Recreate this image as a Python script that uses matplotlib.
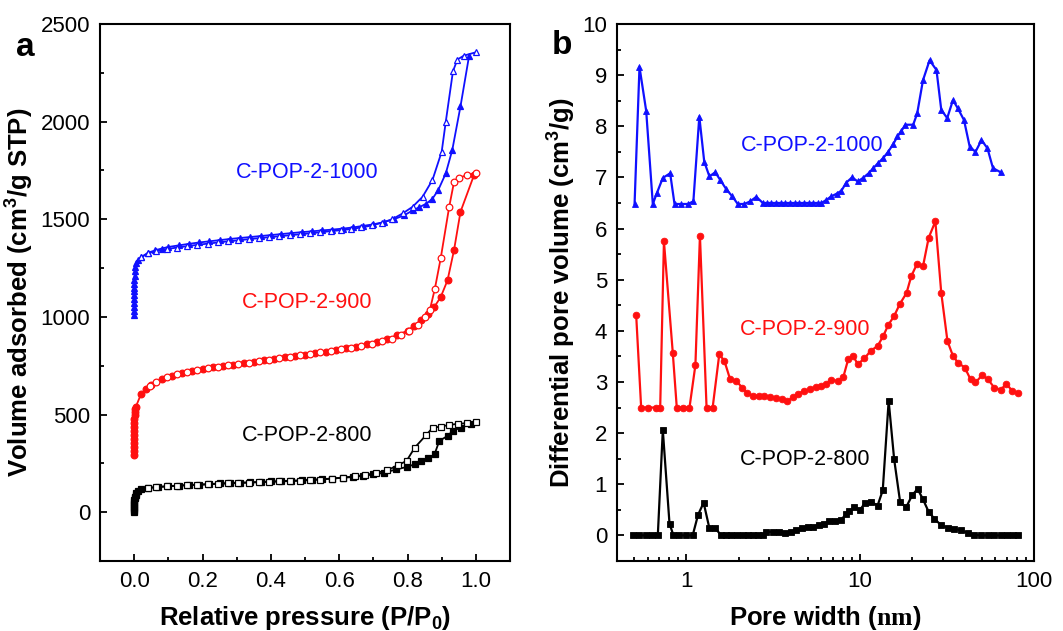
import numpy as np
import matplotlib
matplotlib.use("Agg")
import matplotlib.pyplot as plt
from matplotlib.ticker import MultipleLocator, FixedLocator, FuncFormatter, LogLocator, NullFormatter

plt.rcParams['font.family'] = ['Liberation Sans', 'DejaVu Sans']
plt.rcParams['mathtext.fontset'] = 'custom'
plt.rcParams['mathtext.rm'] = 'Liberation Sans'
plt.rcParams['mathtext.bf'] = 'Liberation Sans:bold'
plt.rcParams['mathtext.sf'] = 'Liberation Serif:bold'

# ---------- (a) N2 isotherms ----------
# C-POP-2-1000
p1000_ads = [1e-6, 2e-6, 5e-6, 1e-5, 2e-5, 5e-5, 1e-4, 2e-4, 4e-4, 7e-4, 1e-3, 2e-3, 3e-3, 5e-3,
             0.01, 0.02, 0.04, 0.06, 0.08, 0.10, 0.13, 0.16, 0.19, 0.22, 0.25, 0.28, 0.31, 0.34,
             0.37, 0.40, 0.43, 0.46, 0.49, 0.52, 0.55, 0.58, 0.61, 0.64, 0.67, 0.70, 0.73, 0.76,
             0.79, 0.815, 0.835, 0.855, 0.873, 0.89, 0.912, 0.931, 0.955, 0.98]
v1000_ads = [1012, 1030, 1050, 1070, 1090, 1110, 1130, 1150, 1170, 1190, 1210, 1235, 1255, 1275,
             1290, 1305, 1328, 1340, 1350, 1358, 1366, 1374, 1381, 1387, 1393, 1399, 1404, 1409,
             1414, 1419, 1424, 1429, 1434, 1438, 1443, 1447, 1452, 1458, 1466, 1474, 1485, 1500,
             1520, 1545, 1562, 1580, 1605, 1650, 1735, 1855, 2078, 2335]
p1000_des = [1.0, 0.965, 0.946, 0.933, 0.912, 0.90, 0.873, 0.844, 0.815, 0.786, 0.755, 0.725,
             0.695, 0.665, 0.635, 0.605, 0.575, 0.545, 0.515, 0.485, 0.455, 0.425, 0.395, 0.365,
             0.335, 0.305, 0.275, 0.245, 0.215, 0.185, 0.155, 0.125, 0.095, 0.065, 0.04, 0.02]
v1000_des = [2355, 2338, 2318, 2258, 2000, 1846, 1701, 1615, 1564, 1530, 1500, 1482,
             1468, 1458, 1450, 1444, 1439, 1433, 1428, 1423, 1418, 1413, 1408, 1403,
             1398, 1392, 1387, 1381, 1375, 1369, 1362, 1355, 1347, 1337, 1325, 1305]

# C-POP-2-900
p900_ads = [1e-6, 2e-6, 5e-6, 1e-5, 2e-5, 5e-5, 1e-4, 2e-4, 4e-4, 7e-4, 1e-3, 2e-3, 3e-3, 5e-3,
            0.02, 0.035, 0.05, 0.08, 0.11, 0.14, 0.17, 0.20, 0.23, 0.26, 0.29, 0.32, 0.35, 0.38,
            0.41, 0.44, 0.47, 0.50, 0.53, 0.56, 0.59, 0.62, 0.65, 0.68, 0.71, 0.74, 0.77, 0.80,
            0.82, 0.84, 0.86, 0.878, 0.897, 0.917, 0.936, 0.955, 0.995]
v900_ads = [295, 315, 335, 355, 375, 395, 415, 435, 455, 475, 495, 515, 530, 540,
            605, 630, 652, 680, 698, 712, 724, 734, 741, 748, 755, 762, 769, 777,
            785, 792, 799, 806, 814, 822, 830, 839, 848, 859, 871, 886, 906, 930,
            955, 985, 1016, 1050, 1101, 1187, 1341, 1538, 1728]
p900_des = [1.0, 0.975, 0.951, 0.936, 0.922, 0.897, 0.88, 0.865, 0.85, 0.83, 0.805, 0.78,
            0.755, 0.725, 0.695, 0.665, 0.635, 0.605, 0.575, 0.545, 0.515, 0.485, 0.455, 0.425,
            0.395, 0.365, 0.335, 0.305, 0.275, 0.245, 0.215, 0.185, 0.155, 0.125, 0.095, 0.065,
            0.045]
v900_des = [1735, 1727, 1712, 1690, 1564, 1299, 1144, 1033, 998, 958, 930, 905,
            888, 874, 862, 852, 843, 834, 826, 818, 810, 803, 796, 789,
            781, 773, 766, 759, 752, 745, 738, 730, 718, 705, 690, 668,
            648]

# C-POP-2-800
p800_ads = [1e-6, 2e-6, 5e-6, 1e-5, 5e-5, 1e-4, 5e-4, 1e-3, 2e-3, 4e-3, 6e-3,
            0.01, 0.02, 0.04, 0.07, 0.10, 0.13, 0.16, 0.19, 0.22, 0.25, 0.28, 0.31, 0.34,
            0.37, 0.40, 0.43, 0.46, 0.49, 0.52, 0.55, 0.58, 0.61, 0.64, 0.67, 0.70, 0.73,
            0.767, 0.797, 0.821, 0.84, 0.86, 0.879, 0.893, 0.918, 0.932, 0.956, 0.985]
v800_ads = [0, 10, 20, 30, 40, 50, 60, 70, 80, 90, 100,
            110, 117, 124, 129, 133, 136, 139, 141, 144, 147, 149, 151, 153,
            155, 157, 159, 161, 163, 166, 169, 172, 176, 180, 186, 193, 201,
            219, 231, 245, 262, 276, 296, 365, 391, 416, 433, 450]
p800_des = [1.0, 0.974, 0.947, 0.922, 0.898, 0.874, 0.855, 0.821, 0.797, 0.772, 0.741, 0.709,
            0.675, 0.646, 0.612, 0.578, 0.545, 0.515, 0.485, 0.455, 0.425, 0.395, 0.365, 0.335,
            0.305, 0.275, 0.245, 0.215, 0.185, 0.155, 0.125, 0.095, 0.065, 0.04]
v800_des = [460, 456, 452, 447, 438, 433, 396, 330, 262, 241, 214, 202,
            190, 184, 177, 172, 167, 164, 161, 159, 157, 155, 153, 151,
            149, 147, 145, 142, 140, 138, 135, 132, 128, 124]

# ---------- (b) pore size distributions ----------
d1000 = [0.505, 0.539, 0.589, 0.643, 0.678, 0.734, 0.809, 0.857, 0.936, 1.02, 1.10, 1.19,
         1.27, 1.36, 1.47, 1.57, 1.70, 1.84, 1.98, 2.16, 2.33, 2.53, 2.76,
         2.90, 3.09, 3.29, 3.50, 3.72, 3.96, 4.21, 4.48, 4.77, 5.07, 5.39, 5.74,
         6.0, 6.4, 6.84, 7.32, 7.81, 8.34, 9.0, 9.7, 10.4, 11.2, 11.9, 12.7, 13.6, 14.5,
         15.5, 16.4, 17.3, 18.2, 20.2, 21.3, 23.0, 25.1, 27.5, 29.3, 31.7, 34.2, 36.5,
         39.6, 42.7, 46.1, 49.9, 54.0, 58.1, 64.4]
v1000 = [6.48, 9.16, 8.30, 6.48, 6.69, 6.99, 7.08, 6.48, 6.48, 6.48, 6.53, 8.19,
         7.31, 7.02, 7.10, 6.95, 6.77, 6.63, 6.48, 6.48, 6.53, 6.62, 6.50,
         6.50, 6.50, 6.50, 6.50, 6.50, 6.50, 6.50, 6.50, 6.50, 6.50, 6.50, 6.50,
         6.50, 6.56, 6.63, 6.68, 6.74, 6.90, 7.00, 6.92, 6.99, 7.08, 7.18, 7.28, 7.38, 7.50,
         7.65, 7.80, 7.91, 8.03, 8.03, 8.25, 8.90, 9.29, 9.10, 8.32, 8.16, 8.51, 8.35,
         8.12, 7.60, 7.50, 7.73, 7.57, 7.18, 7.10]

d900 = [0.516, 0.551, 0.601, 0.667, 0.709, 0.745, 0.838, 0.883, 0.965, 1.045, 1.13, 1.20,
        1.31, 1.42, 1.55, 1.66, 1.79, 1.94, 2.10, 2.24, 2.42, 2.61, 2.82, 3.04, 3.29,
        3.56, 3.80, 4.10, 4.40, 4.75, 5.15, 5.59, 6.0, 6.38, 6.81, 7.43, 8.0,
        8.54, 9.1, 9.7, 10.6, 11.5, 12.6, 13.6, 14.5, 15.7, 16.9, 18.5, 19.7, 21.2,
        23.0, 24.8, 27.1, 29.3, 31.8, 34.2, 36.5, 40.0, 43.2, 46.1, 50.3, 54.5, 59.0,
        64.4, 69.4, 74.9, 80.9]
v900 = [4.30, 2.50, 2.50, 2.50, 2.50, 5.75, 3.56, 2.50, 2.50, 2.50, 3.33, 5.86,
        2.50, 2.50, 3.54, 3.41, 3.05, 3.02, 2.89, 2.78, 2.73, 2.72, 2.73, 2.71, 2.68,
        2.66, 2.62, 2.70, 2.77, 2.82, 2.86, 2.91, 2.93, 2.96, 3.04, 3.02, 3.09,
        3.44, 3.51, 3.35, 3.46, 3.61, 3.70, 3.90, 4.11, 4.29, 4.52, 4.74, 5.07, 5.30,
        5.26, 5.82, 6.14, 4.74, 3.80, 3.51, 3.38, 3.28, 3.05, 2.99, 3.13, 3.05, 2.89,
        2.85, 2.96, 2.83, 2.78]

d800 = [0.493, 0.539, 0.589, 0.638, 0.687, 0.734, 0.802, 0.845, 0.915, 1.0, 1.09, 1.17,
        1.26, 1.36, 1.47, 1.59, 1.70, 1.82, 1.96, 2.11, 2.26, 2.43, 2.60, 2.76,
        2.88, 3.15, 3.43, 3.72, 4.01, 4.29, 4.64, 4.99, 5.34, 5.78, 6.23, 6.66, 7.21,
        7.77, 8.31, 8.68, 9.27, 10.0, 10.7, 11.6, 12.6, 13.5, 14.6, 15.7, 17.0, 18.4,
        19.9, 21.4, 22.9, 24.8, 26.7, 29.2, 31.9, 34.8, 38.0, 41.5, 45.4, 49.6, 54.2,
        59.2, 64.6, 70.4, 75.5, 80.5]
v800 = [0.0, 0.0, 0.0, 0.0, 0.0, 2.06, 0.23, 0.0, 0.0, 0.0, 0.0, 0.40,
        0.64, 0.14, 0.14, 0.0, 0.0, 0.0, 0.0, 0.0, 0.0, 0.0, 0.0, 0.0,
        0.07, 0.07, 0.07, 0.05, 0.07, 0.11, 0.14, 0.16, 0.17, 0.20, 0.23, 0.28, 0.28,
        0.30, 0.42, 0.48, 0.55, 0.50, 0.64, 0.66, 0.58, 0.88, 2.63, 1.49, 0.65, 0.55,
        0.78, 0.91, 0.72, 0.46, 0.33, 0.20, 0.15, 0.13, 0.10, 0.05, 0.01, 0.0, 0.0,
        0.0, 0.0, 0.0, 0.0, 0.0]

BLUE, RED, BLACK = '#1010ff', '#ff1010', '#000000'

fig = plt.figure(figsize=(10.63, 6.31), dpi=100)
ax1 = fig.add_axes([0.0941, 0.111, 0.3857, 0.851])
ax2 = fig.add_axes([0.5804, 0.111, 0.3923, 0.851])

ms, lw = 4.8, 1.3
for pa, va, pd, vd, c, m in [(p800_ads, v800_ads, p800_des, v800_des, BLACK, 's'),
                             (p900_ads, v900_ads, p900_des, v900_des, RED, 'o'),
                             (p1000_ads, v1000_ads, p1000_des, v1000_des, BLUE, '^')]:
    ax1.plot(pa, va, color=c, marker=m, ms=ms, lw=lw, mfc=c, mec=c, mew=0.9)
    ax1.plot(pd, vd, color=c, marker=m, ms=ms, lw=lw, mfc='white', mec=c, mew=0.9)

ax1.set_xlim(-0.1, 1.1)
ax1.set_ylim(-250, 2500)
ax1.xaxis.set_major_locator(FixedLocator([0.0, 0.2, 0.4, 0.6, 0.8, 1.0]))
ax1.xaxis.set_minor_locator(FixedLocator([0.1, 0.3, 0.5, 0.7, 0.9]))
ax1.xaxis.set_major_formatter(FuncFormatter(lambda v, p: f"{v:.1f}"))
ax1.yaxis.set_major_locator(FixedLocator([0, 500, 1000, 1500, 2000, 2500]))
ax1.yaxis.set_minor_locator(FixedLocator([250, 750, 1250, 1750, 2250]))
ax1.set_xlabel(r"Relative pressure (P/P$_\mathbf{0}$)", fontsize=18.5, fontweight='bold', labelpad=9)
ax1.set_ylabel(r"Volume adsorbed (cm$^\mathbf{3}$/g STP)", fontsize=18.5, fontweight='bold', labelpad=4)
ax1.text(0.506, 1737, "C-POP-2-1000", color=BLUE, fontsize=15.5, ha='center', va='center')
ax1.text(0.506, 1075, "C-POP-2-900", color=RED, fontsize=15.5, ha='center', va='center')
ax1.text(0.506, 393, "C-POP-2-800", color=BLACK, fontsize=15.5, ha='center', va='center')

for d, v, c, m in [(d800, v800, BLACK, 's'), (d900, v900, RED, 'o'), (d1000, v1000, BLUE, '^')]:
    ax2.plot(d, v, color=c, marker=m, ms=ms, lw=1.6, mfc=c, mec=c, mew=0.6)

ax2.set_xscale('log')
ax2.set_xlim(0.4, 100)
ax2.set_ylim(-0.5, 10)
ax2.xaxis.set_major_locator(FixedLocator([1, 10, 100]))
ax2.xaxis.set_major_formatter(FuncFormatter(lambda v, p: f"{v:g}"))
ax2.xaxis.set_minor_locator(LogLocator(base=10, subs=np.arange(2, 10)))
ax2.xaxis.set_minor_formatter(NullFormatter())
ax2.yaxis.set_major_locator(MultipleLocator(1))
ax2.yaxis.set_minor_locator(MultipleLocator(0.5))
ax2.set_xlabel(r"Pore width ($\mathsf{nm}$)", fontsize=18.5, fontweight='bold', labelpad=9)
ax2.set_ylabel(r"Differential pore volume (cm$^\mathbf{3}$/g)", fontsize=18.5, fontweight='bold', labelpad=4)
ax2.text(5.3, 7.63, "C-POP-2-1000", color=BLUE, fontsize=15.5, ha='center', va='center')
ax2.text(4.8, 4.03, "C-POP-2-900", color=RED, fontsize=15.5, ha='center', va='center')
ax2.text(4.8, 1.49, "C-POP-2-800", color=BLACK, fontsize=15.5, ha='center', va='center')

for ax in (ax1, ax2):
    for s in ax.spines.values():
        s.set_linewidth(1.5)
    ax.tick_params(which='both', direction='in', top=False, right=False, width=1.3)
    ax.tick_params(which='major', length=5, labelsize=16, pad=7)
    ax.tick_params(which='minor', length=3)

fig.text(0.024, 0.925, "a", fontsize=24, fontweight='bold', ha='center', va='center')
fig.text(0.529, 0.928, "b", fontsize=24, fontweight='bold', ha='center', va='center')

fig.savefig("out.png", dpi=100)
